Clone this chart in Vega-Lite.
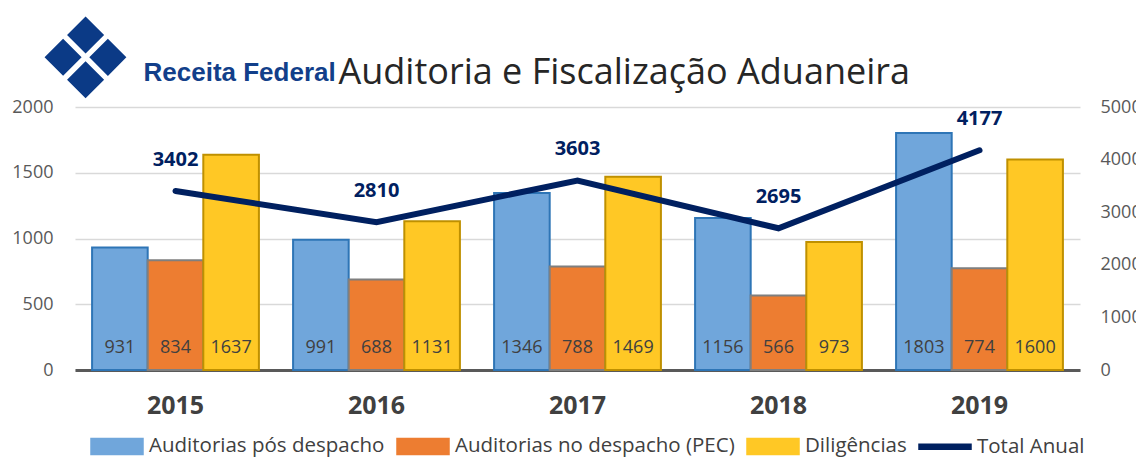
{
  "$schema": "https://vega.github.io/schema/vega-lite/v6.json",
  "width": 1005,
  "height": 263,
  "autosize": "none",
  "padding": {"left": 75, "top": 107, "right": 56, "bottom": 104},
  "background": "white",
  "config": {"font": "Open Sans", "view": {"stroke": null}},
  "data": {
    "values": [
      {"year": "2015", "series": "Auditorias pós despacho", "value": 931},
      {"year": "2015", "series": "Auditorias no despacho (PEC)", "value": 834},
      {"year": "2015", "series": "Diligências", "value": 1637},
      {"year": "2015", "series": "Total Anual", "value": 3402},
      {"year": "2016", "series": "Auditorias pós despacho", "value": 991},
      {"year": "2016", "series": "Auditorias no despacho (PEC)", "value": 688},
      {"year": "2016", "series": "Diligências", "value": 1131},
      {"year": "2016", "series": "Total Anual", "value": 2810},
      {"year": "2017", "series": "Auditorias pós despacho", "value": 1346},
      {"year": "2017", "series": "Auditorias no despacho (PEC)", "value": 788},
      {"year": "2017", "series": "Diligências", "value": 1469},
      {"year": "2017", "series": "Total Anual", "value": 3603},
      {"year": "2018", "series": "Auditorias pós despacho", "value": 1156},
      {"year": "2018", "series": "Auditorias no despacho (PEC)", "value": 566},
      {"year": "2018", "series": "Diligências", "value": 973},
      {"year": "2018", "series": "Total Anual", "value": 2695},
      {"year": "2019", "series": "Auditorias pós despacho", "value": 1803},
      {"year": "2019", "series": "Auditorias no despacho (PEC)", "value": 774},
      {"year": "2019", "series": "Diligências", "value": 1600},
      {"year": "2019", "series": "Total Anual", "value": 4177}
    ]
  },
  "encoding": {
    "x": {
      "field": "year",
      "type": "nominal",
      "scale": {"paddingInner": 0.17, "paddingOuter": 0.085},
      "axis": {
        "title": "Receita Federal",
        "titleX": 68,
        "titleY": -290,
        "titleAlign": "left",
        "titleBaseline": "alphabetic",
        "titleAnchor": null,
        "titleFont": "Liberation Sans",
        "titleFontSize": 26,
        "titleFontWeight": "bold",
        "titleColor": "#123f8a",
        "labelAngle": 0,
        "labelFontSize": 25,
        "labelFontWeight": "bold",
        "labelColor": "#404040",
        "labelPadding": 23,
        "ticks": false,
        "tickSize": 0,
        "domainColor": "#595959",
        "domainWidth": 3
      }
    }
  },
  "layer": [
    {
      "transform": [{"filter": "datum.series !== 'Total Anual'"}],
      "layer": [
        {
          "mark": {"type": "bar", "strokeWidth": 2},
          "encoding": {
            "xOffset": {
              "field": "series",
              "scale": {"domain": ["Auditorias pós despacho", "Auditorias no despacho (PEC)", "Diligências"]}
            },
            "y": {
              "field": "value",
              "type": "quantitative",
              "scale": {"domain": [0, 2000]},
              "axis": {
                "values": [0, 500, 1000, 1500, 2000],
                "format": "d",
                "labelFontSize": 18,
                "labelColor": "#595959",
                "labelPadding": 22,
                "domain": false,
                "ticks": false,
                "gridColor": "#d9d9d9",
                "gridWidth": 1.5,
                "title": "❖",
                "titleFont": "DejaVu Sans",
                "titleFontSize": 112,
                "titleFontWeight": "normal",
                "titleColor": "#0b3a86",
                "titleAngle": 0,
                "titleX": 10,
                "titleY": -44,
                "titleAlign": "center",
                "titleBaseline": "middle",
                "titleAnchor": null
              }
            },
            "color": {
              "field": "series",
              "type": "nominal",
              "scale": {
                "domain": ["Auditorias pós despacho", "Auditorias no despacho (PEC)", "Diligências", "Total Anual"],
                "range": ["#70a6db", "#ed7d31", "#ffc825", "#002060"]
              },
              "legend": {
                "title": null,
                "orient": "none",
                "legendX": 15,
                "legendY": 312,
                "direction": "horizontal",
                "columns": 4,
                "symbolSize": 2704,
                "labelFontSize": 20.5,
                "labelColor": "#404040",
                "labelOffset": 5,
                "columnPadding": 9,
                "labelLimit": 400,
                "symbolOpacity": 1,
                "encode": {
                  "symbols": {
                    "update": {
                      "shape": {"signal": "datum.value === 'Total Anual' ? 'M-1,-0.1H1V0.1H-1Z' : 'M-1,-0.31H1V0.31H-1Z'"},
                      "fill": {"signal": "datum.value === 'Auditorias pós despacho' ? '#70a6db' : datum.value === 'Auditorias no despacho (PEC)' ? '#ed7d31' : datum.value === 'Diligências' ? '#ffc825' : '#002060'"},
                      "stroke": {"signal": "datum.value === 'Auditorias pós despacho' ? '#2e75b6' : datum.value === 'Auditorias no despacho (PEC)' ? '#7f7f7f' : datum.value === 'Diligências' ? '#bf9000' : '#002060'"},
                      "strokeWidth": {"value": 1.5},
                      "opacity": {"value": 1},
                      "fillOpacity": {"value": 1},
                      "strokeOpacity": {"value": 1}
                    }
                  }
                }
              }
            },
            "stroke": {
              "field": "series",
              "type": "nominal",
              "scale": {
                "domain": ["Auditorias pós despacho", "Auditorias no despacho (PEC)", "Diligências"],
                "range": ["#2e75b6", "#7f7f7f", "#bf9000"]
              },
              "legend": null
            }
          }
        },
        {
          "mark": {"type": "text", "fontSize": 18, "color": "#404040", "baseline": "middle", "dy": -22},
          "encoding": {
            "xOffset": {
              "field": "series",
              "scale": {"domain": ["Auditorias pós despacho", "Auditorias no despacho (PEC)", "Diligências"]}
            },
            "y": {"datum": 0, "type": "quantitative"},
            "text": {"field": "value", "type": "quantitative"}
          }
        }
      ]
    },
    {
      "transform": [{"filter": "datum.series === 'Total Anual'"}],
      "encoding": {
        "y": {
          "field": "value",
          "type": "quantitative",
          "scale": {"domain": [0, 5000]},
          "axis": {
            "orient": "right",
            "values": [0, 1000, 2000, 3000, 4000, 5000],
            "format": "d",
            "labelFontSize": 18,
            "labelColor": "#595959",
            "labelPadding": 20,
            "domain": false,
            "ticks": false,
            "grid": false,
            "title": "Auditoria e Fiscalização Aduaneira",
            "titleFont": "Open Sans",
            "titleFontSize": 36,
            "titleFontWeight": "normal",
            "titleColor": "#262626",
            "titleAngle": 0,
            "titleX": -742,
            "titleY": -24,
            "titleAlign": "left",
            "titleBaseline": "alphabetic",
            "titleAnchor": null
          }
        }
      },
      "layer": [
        {
          "mark": {"type": "line", "strokeWidth": 6, "strokeCap": "round", "color": "#002060"},
          "encoding": {
            "color": {"field": "series", "type": "nominal"}
          }
        },
        {
          "mark": {"type": "text", "fontSize": 20, "fontWeight": "bold", "color": "#002060", "baseline": "middle", "dy": -31},
          "encoding": {
            "text": {"field": "value", "type": "quantitative", "format": "d"}
          }
        }
      ]
    }
  ],
  "resolve": {"scale": {"y": "independent"}}
}
